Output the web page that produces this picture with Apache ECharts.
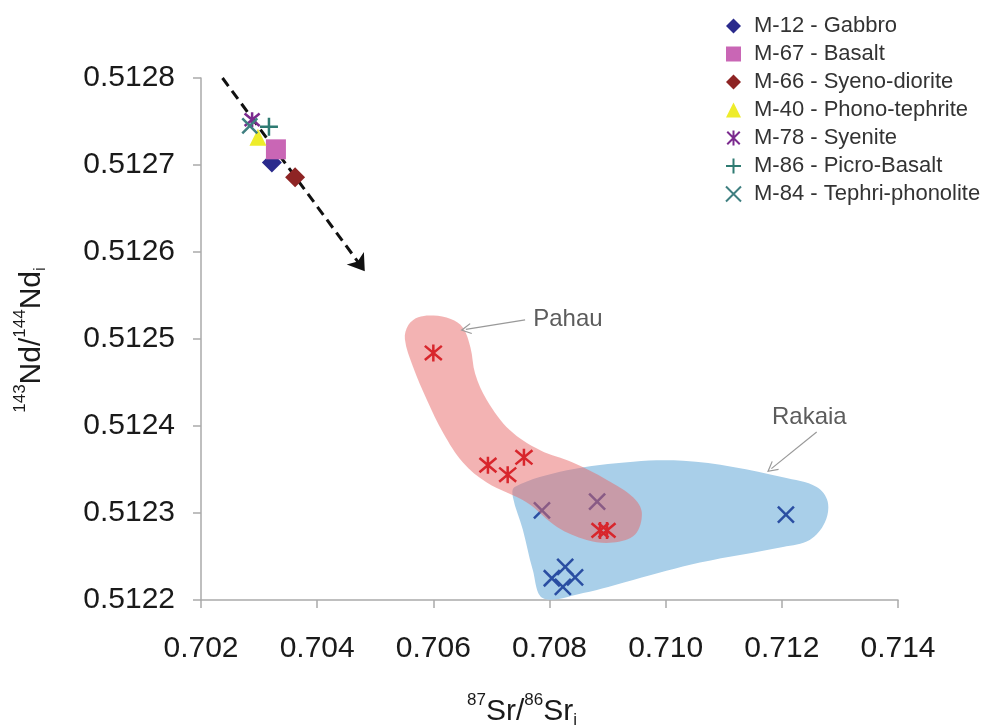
<!DOCTYPE html>
<html>
<head>
<meta charset="utf-8">
<script src="https://cdn.jsdelivr.net/npm/echarts@6/dist/echarts.min.js"></script>
<style>
  html, body { margin: 0; padding: 0; background: #fff; }
  #chart { width: 988px; height: 726px; }
</style>
</head>
<body>
<div id="chart"></div>
<script>
// Axis ticks
const xTicks = { min: 0.702, max: 0.714, step: 0.002 };
const yTicks = { min: 0.5122, max: 0.5128, step: 0.0001 };

// Samples from this study: [87Sr/86Sr_i, 143Nd/144Nd_i]
const m12Gabbro        = [[0.70322, 0.512703]];
const m67Basalt        = [[0.70329, 0.512718]];
const m66SyenoDiorite  = [[0.70362, 0.512686]];
const m40PhonoTephrite = [[0.70298, 0.512732]];
const m78Syenite       = [[0.70288, 0.512752]];
const m86PicroBasalt   = [[0.70317, 0.512744]];
const m84TephriPhonolite = [[0.70284, 0.512745]];

// Comparison fields
const pahauPoints = [
  [0.70600, 0.512484], [0.70694, 0.512355], [0.70728, 0.512344],
  [0.70756, 0.512364], [0.70887, 0.512280], [0.70899, 0.512280]
];
const rakaiaPoints = [
  [0.70787, 0.512303], [0.70882, 0.512313], [0.70804, 0.512225],
  [0.70827, 0.512238], [0.70844, 0.512226], [0.70823, 0.512215],
  [0.71207, 0.512298]
];

// Field outlines (data units)
const pahauOutline = [
  [0.70551, 0.512500], [0.70557, 0.512516], [0.70574, 0.512525], [0.70600, 0.512527],
  [0.70630, 0.512523], [0.70651, 0.512513], [0.70664, 0.512490], [0.70672, 0.512460],
  [0.70692, 0.512430], [0.70732, 0.512395], [0.70784, 0.512372], [0.70840, 0.512358],
  [0.70899, 0.512338], [0.70944, 0.512318], [0.70959, 0.512300], [0.70947, 0.512275],
  [0.70909, 0.512266], [0.70864, 0.512269], [0.70813, 0.512284], [0.70761, 0.512312],
  [0.70692, 0.512335], [0.70651, 0.512358], [0.70617, 0.512392], [0.70589, 0.512430],
  [0.70565, 0.512468]
];
const rakaiaOutline = [
  [0.70740, 0.512330], [0.70830, 0.512349], [0.70944, 0.512359], [0.71030, 0.512360],
  [0.71116, 0.512353], [0.71202, 0.512341], [0.71260, 0.512330], [0.71279, 0.512313],
  [0.71274, 0.512289], [0.71248, 0.512269], [0.71202, 0.512261], [0.71059, 0.512243],
  [0.70944, 0.512223], [0.70858, 0.512208], [0.70789, 0.512202], [0.70771, 0.512235],
  [0.70754, 0.512281], [0.70737, 0.512318]
];

// Trend arrow and field annotations
const trendArrow = [[0.70237, 0.512800], [0.70482, 0.512578]];
const pahauPointer = [[0.70758, 0.512522], [0.70656, 0.512511]];
const rakaiaPointer = [[0.71260, 0.512393], [0.71182, 0.512351]];
const fieldLabels = [[0.70772, 0.512522, 'Pahau'], [0.71183, 0.512410, 'Rakaia']];

const FONT = '"Liberation Sans", Arial, sans-serif';
const STAR = 'path://M0 0L10 10M10 0L0 10M5 -1L5 11';
const CROSS = 'path://M0 0L10 10M10 0L0 10';
const PLUS = 'path://M5 0L5 10M0 5L10 5';
const OPEN_HEAD = 'path://M5 0L10 9L9.2 9.6L5 2.2L0.8 9.6L0 9Z';

function strokeStyle(c, w) {
  return { color: c, borderColor: c, borderWidth: w, opacity: 1 };
}

function blob(name, outline, fill, z) {
  return {
    name: name, type: 'custom', z: z, silent: true, clip: true,
    data: [outline[0]],
    renderItem: function (params, api) {
      return {
        type: 'polygon',
        shape: { points: outline.map(p => api.coord(p)), smooth: 0.35 },
        style: { fill: fill }
      };
    }
  };
}

// Rich text pieces for the isotope-ratio axis titles
const titleRich = {
  big: { fontSize: 30, fontFamily: FONT, lineHeight: 40, verticalAlign: 'middle', fill: '#1a1a1a' },
  sup: { fontSize: 17, fontFamily: FONT, lineHeight: 17, verticalAlign: 'top', fill: '#1a1a1a' },
  sub: { fontSize: 17, fontFamily: FONT, lineHeight: 17, verticalAlign: 'bottom', padding: [0, 0, 3, 0], fill: '#1a1a1a' }
};

const chart = echarts.init(document.getElementById('chart'), null, { renderer: 'canvas' });

const option = {
  animation: false,
  backgroundColor: '#fff',
  textStyle: { fontFamily: FONT },
  grid: { left: 201, right: 90, top: 78, bottom: 126 },
  xAxis: {
    type: 'value', min: xTicks.min, max: xTicks.max, interval: xTicks.step,
    axisLine: { show: true, lineStyle: { color: '#aaa', width: 1.5 } },
    axisTick: { show: true, length: 8, inside: false, lineStyle: { color: '#aaa', width: 1.5 } },
    splitLine: { show: false },
    axisLabel: { fontSize: 30, color: '#1a1a1a', margin: 34, formatter: v => v.toFixed(3) }
  },
  yAxis: {
    type: 'value', min: yTicks.min, max: yTicks.max, interval: yTicks.step,
    axisLine: { show: true, lineStyle: { color: '#aaa', width: 1.5 } },
    axisTick: { show: true, length: 8, inside: false, lineStyle: { color: '#aaa', width: 1.5 } },
    splitLine: { show: false },
    axisLabel: { fontSize: 30, color: '#1a1a1a', margin: 26, formatter: v => v.toFixed(4) }
  },
  legend: {
    orient: 'vertical', left: 720, top: 10,
    itemWidth: 15, itemHeight: 15, itemGap: 6,
    textStyle: { fontSize: 22, lineHeight: 22, color: '#333', padding: [0, 0, 0, 8] },
    data: ['M-12 - Gabbro', 'M-67 - Basalt', 'M-66 - Syeno-diorite', 'M-40 - Phono-tephrite',
           'M-78 - Syenite', 'M-86 - Picro-Basalt', 'M-84 - Tephri-phonolite']
  },
  graphic: [
    {
      type: 'text', x: 522, y: 712,
      style: {
        text: '{sup|87}{big|Sr/}{sup|86}{big|Sr}{sub|i}',
        align: 'center', verticalAlign: 'middle', fill: '#1a1a1a', rich: titleRich
      }
    },
    {
      type: 'text', x: 32, y: 340, rotation: Math.PI / 2,
      style: {
        text: '{sup|143}{big|Nd/}{sup|144}{big|Nd}{sub|i}',
        align: 'center', verticalAlign: 'middle', fill: '#1a1a1a', rich: titleRich
      }
    }
  ],
  series: [
    blob('Rakaia field', rakaiaOutline, '#a9cfe9', 1),
    {
      name: 'Rakaia', type: 'scatter', z: 2, data: rakaiaPoints,
      symbol: CROSS, symbolSize: 16, itemStyle: strokeStyle('#2a4ea2', 2.5)
    },
    blob('Pahau field', pahauOutline, 'rgba(232,104,104,0.5)', 3),
    {
      name: 'Pahau', type: 'scatter', z: 4, data: pahauPoints,
      symbol: STAR, symbolSize: 17, itemStyle: strokeStyle('#d8262c', 2.5)
    },
    {
      name: 'M-12 - Gabbro', type: 'scatter', z: 5, data: m12Gabbro,
      symbol: 'diamond', symbolSize: 20, itemStyle: { color: '#2a2a8c', opacity: 1 }
    },
    {
      name: 'M-67 - Basalt', type: 'scatter', z: 5, data: m67Basalt,
      symbol: 'rect', symbolSize: 20, itemStyle: { color: '#c966b5', opacity: 1 }
    },
    {
      name: 'M-66 - Syeno-diorite', type: 'scatter', z: 5, data: m66SyenoDiorite,
      symbol: 'diamond', symbolSize: 20, itemStyle: { color: '#8e2424', opacity: 1 }
    },
    {
      name: 'M-40 - Phono-tephrite', type: 'scatter', z: 5, data: m40PhonoTephrite,
      symbol: 'triangle', symbolSize: 17, itemStyle: { color: '#eeec2a', opacity: 1 }
    },
    {
      name: 'M-78 - Syenite', type: 'scatter', z: 5, data: m78Syenite,
      symbol: STAR, symbolSize: 15, itemStyle: strokeStyle('#7b2a8e', 2.5)
    },
    {
      name: 'M-86 - Picro-Basalt', type: 'scatter', z: 5, data: m86PicroBasalt,
      symbol: PLUS, symbolSize: 18, itemStyle: strokeStyle('#2e7b72', 2.5)
    },
    {
      name: 'M-84 - Tephri-phonolite', type: 'scatter', z: 5, data: m84TephriPhonolite,
      symbol: CROSS, symbolSize: 15, itemStyle: strokeStyle('#3f7f80', 2.5)
    },
    {
      name: 'annotations', type: 'line', z: 6, data: [],
      markLine: {
        silent: true, animation: false, label: { show: false },
        data: [
          [
            { coord: trendArrow[0], symbol: 'none',
              lineStyle: { type: [10, 6], width: 3, color: '#111' } },
            { coord: trendArrow[1], symbol: 'arrow', symbolSize: 16 }
          ],
          [
            { coord: pahauPointer[0], symbol: 'none', lineStyle: { type: 'solid', width: 1.2, color: '#999' } },
            { coord: pahauPointer[1], symbol: OPEN_HEAD, symbolSize: 11 }
          ],
          [
            { coord: rakaiaPointer[0], symbol: 'none', lineStyle: { type: 'solid', width: 1.2, color: '#999' } },
            { coord: rakaiaPointer[1], symbol: OPEN_HEAD, symbolSize: 11 }
          ]
        ]
      }
    },
    {
      name: 'field labels', type: 'scatter', z: 6, data: fieldLabels,
      symbolSize: 0, silent: true,
      label: {
        show: true, position: 'right', distance: 0,
        formatter: p => p.data[2], fontSize: 24, color: '#333', fontFamily: FONT
      }
    }
  ]
};

chart.setOption(option);
</script>
</body>
</html>
